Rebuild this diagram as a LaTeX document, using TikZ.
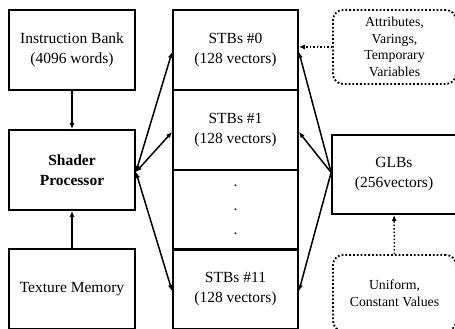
\documentclass[tikz,border=0pt]{standalone}
\usepackage{fontspec}
\setmainfont{Liberation Serif}
\usepackage{tikz}
\usetikzlibrary{arrows.meta,positioning}

\begin{document}
\begin{tikzpicture}[
  x=1pt, y=1pt,
  >={Latex[length=6pt,width=5pt]},
  blk/.style={draw, line width=1.8pt, minimum width=126pt, minimum height=80pt,
    align=center, font=\fontsize{15.5}{20}\selectfont, inner sep=0pt},
  cell/.style={blk, minimum width=125pt},
  note/.style={draw, dotted, line width=1.8pt, rounded corners=10pt, align=center,
    font=\fontsize{13.8}{16.5}\selectfont, inner sep=0pt},
  link/.style={line width=1.5pt, ->},
  both/.style={line width=1.5pt, <->}
]
\useasboundingbox (0,0) rectangle (455,329);

% left column
\node[blk] (instr)  at (72,279) {Instruction Bank\\(4096 words)};
\node[blk] (shader) at (72,159) {\textbf{Shader}\\\textbf{Processor}};
\node[blk] (texmem) at (72,40)  {Texture Memory};

% STB column
\node[cell] (stb0)    at (235.5,279) {STBs \#0\\(128 vectors)};
\node[cell] (stb1)    at (235.5,199) {STBs \#1\\(128 vectors)};
\node[cell] (stbdots) at (235.5,119) {.\\[4pt].\\[4pt].};
\node[cell] (stb11)   at (235.5,40)  {STBs \#11\\(128 vectors)};

% right column
\node[blk, minimum width=124pt, minimum height=79pt] (glb) at (394,154.5) {GLBs\\(256vectors)};
\node[note, minimum width=123pt, minimum height=74pt] (attrs) at (394.5,282) {Attributes,\\Varings,\\Temporary\\Variables};
\node[note, minimum width=123pt, minimum height=76pt] (unif) at (394.5,36) {Uniform,\\Constant Values};

\coordinate (sp) at ([yshift=-2pt]shader.east);
\coordinate (gp) at ([yshift=2pt]glb.west);

\draw[link] (instr) -- (shader);
\draw[link] (texmem) -- (shader);
\foreach \s in {stb0,stb1,stb11}{
  \draw[both] (sp) -- ([yshift=-2pt]\s.west);
  \draw[link] (gp) -- ([yshift=-2pt]\s.east);
}
\draw[link, dotted] (attrs.west) -- (attrs.west -| stb0.east);
\draw[link, dotted] (unif) -- (glb);
\end{tikzpicture}
\end{document}
